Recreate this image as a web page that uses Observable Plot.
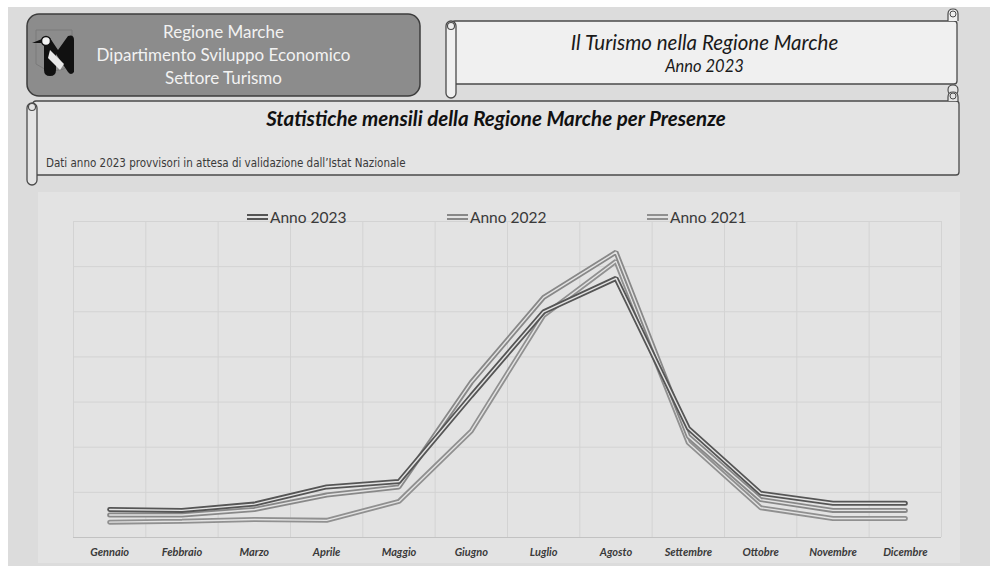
<!DOCTYPE html>
<html>
<head>
<meta charset="utf-8">
<script src="https://cdn.jsdelivr.net/npm/d3@7"></script>
<script src="https://cdn.jsdelivr.net/npm/@observablehq/plot@0.6"></script>
<style>
  html, body { margin: 0; padding: 0; background: #ffffff; }
  body { width: 1000px; height: 570px; position: relative; overflow: hidden; font-family: Lato, "Open Sans", sans-serif; }
  #panel { position: absolute; left: 8px; top: 7px; width: 982px; height: 559px; background: #dcdcdc; }
  #chartbg { position: absolute; left: 38px; top: 192px; width: 922px; height: 371px; background: #e3e3e3; }
  #deco { position: absolute; left: 0; top: 0; }
  .t { position: absolute; white-space: nowrap; }
  #chart { position: absolute; left: 38px; top: 192px; }
  #legend { position: absolute; top: 208px; left: 0; width: 1000px; height: 20px; }
  .li { position: absolute; display: flex; align-items: center; font-size: 15.5px; color: #3a3a3a; font-family: Lato, sans-serif; }
  .li svg { margin-right: 2px; }
</style>
</head>
<body>
<div id="panel"></div>
<div id="chartbg"></div>
<svg id="deco" width="1000" height="200">
  <!-- left box -->
  <rect x="27" y="14" width="393" height="82" rx="12" fill="#8c8c8c" stroke="#3c3c3c" stroke-width="1.5"/>
  <!-- logo -->
  <path d="M36 30 h36 v34 q-18 14 -36 0 z" fill="none" stroke="#7a7a7a" stroke-width="1"/>
  <path d="M44 40 v30 q0 6 6 6 q6 0 6 -6 v-16 l12 18 q3 4 6 0 v-32 q0 -6 -6 -4 l-10 14 l-8 -12 z" fill="#111"/>
  <path d="M50 50 l14 14 l-4 6 l-12 -12 z" fill="#e8e8e8"/>
  <circle cx="46" cy="41" r="4.5" fill="#f2f2f2" stroke="#111" stroke-width="1.5"/>
  <path d="M32 43 l10 -4 l0 4 z" fill="#111"/>
  <!-- top right scroll -->
  <rect x="452" y="21" width="505" height="63" rx="3" fill="#f0f0f0" stroke="#4a4a4a" stroke-width="1.3"/>
  <rect x="446" y="21" width="10" height="77" rx="5" fill="#f0f0f0" stroke="#4a4a4a" stroke-width="1.3"/>
  <circle cx="451" cy="26" r="3.5" fill="#f0f0f0" stroke="#4a4a4a" stroke-width="1.1"/>
  <path d="M948 21 v-7 q0 -5 5 -5 q5 0 5 5 v7" fill="#f0f0f0" stroke="#4a4a4a" stroke-width="1.2"/>
  <circle cx="953" cy="14" r="3" fill="none" stroke="#4a4a4a" stroke-width="1"/>
  <path d="M948 90 q0 -5 5 -5 q5 0 5 5 q0 5 -5 5 q-5 0 -5 -5 z" fill="#e6e6e6" stroke="#4a4a4a" stroke-width="1.1"/>
  <!-- second scroll -->
  <rect x="33" y="101" width="926" height="74" rx="3" fill="#e4e4e4" stroke="#4a4a4a" stroke-width="1.3"/>
  <rect x="27" y="103" width="10" height="82" rx="5" fill="#e4e4e4" stroke="#4a4a4a" stroke-width="1.3"/>
  <circle cx="32" cy="107" r="3.5" fill="#e4e4e4" stroke="#4a4a4a" stroke-width="1.1"/>
  <path d="M948 101 v-4 q0 -5 5 -5 q5 0 5 5 v4" fill="#e4e4e4" stroke="#4a4a4a" stroke-width="1.2"/>
  <circle cx="953" cy="96" r="3" fill="none" stroke="#4a4a4a" stroke-width="1"/>
</svg>
<div class="t" style="left:27px;width:393px;top:20px;text-align:center;color:#f2f2f2;font-size:17px;line-height:23px;">Regione Marche<br>Dipartimento Sviluppo Economico<br>Settore Turismo</div>
<div class="t" style="left:452px;width:505px;top:30px;text-align:center;color:#1a1a1a;font-size:20.5px;font-style:italic;">Il Turismo nella Regione Marche</div>
<div class="t" style="left:452px;width:505px;top:56px;text-align:center;color:#1a1a1a;font-size:16.5px;font-style:italic;">Anno 2023</div>
<div class="t" style="left:33px;width:926px;top:106px;text-align:center;color:#111;font-size:20.5px;font-style:italic;font-weight:bold;">Statistiche mensili della Regione Marche per Presenze</div>
<div class="t" style="left:46px;top:156px;color:#3a3a3a;font-size:11.5px;font-family:'Liberation Sans Narrow','DejaVu Sans Condensed',Lato,sans-serif;">Dati anno 2023 provvisori in attesa di validazione dall’Istat Nazionale</div>
<div id="chart"></div>
<div id="legend"></div>
<script>
// ---- data (presenze, milioni) ----
const months = ["Gennaio","Febbraio","Marzo","Aprile","Maggio","Giugno","Luglio","Agosto","Settembre","Ottobre","Novembre","Dicembre"];
const seriesNames = ["Anno 2023","Anno 2022","Anno 2021"];
const anno2023 = [0.31, 0.30, 0.37, 0.56, 0.62, 1.57, 2.50, 2.87, 1.21, 0.49, 0.38, 0.38];
const anno2022 = [0.25, 0.25, 0.31, 0.47, 0.56, 1.72, 2.66, 3.16, 1.12, 0.42, 0.30, 0.30];
const anno2021 = [0.17, 0.18, 0.20, 0.19, 0.40, 1.18, 2.46, 3.06, 1.05, 0.33, 0.21, 0.21];
const yTicks = [0, 0.5, 1, 1.5, 2, 2.5, 3, 3.5];

const colors = {"Anno 2023": "#555555", "Anno 2022": "#888888", "Anno 2021": "#909090"};
const valuesBy = {"Anno 2023": anno2023, "Anno 2022": anno2022, "Anno 2021": anno2021};
const rows = seriesNames.flatMap(name => valuesBy[name].map((v, i) => ({anno: name, i, mese: months[i], v})));
const gridX = months.map((m, i) => i - 0.5).concat([months.length - 0.5]);
const bg = "#e3e3e3";

const lineMarks = [];
for (const name of ["Anno 2021", "Anno 2022", "Anno 2023"]) {
  const data = rows.filter(r => r.anno === name);
  lineMarks.push(Plot.line(data, {x: "i", y: "v", stroke: colors[name], strokeWidth: 5, strokeLinejoin: "miter"}));
  lineMarks.push(Plot.line(data, {x: "i", y: "v", stroke: bg, strokeWidth: 1.4, strokeLinejoin: "miter"}));
}

const chart = Plot.plot({
  width: 922, height: 371,
  marginLeft: 35, marginRight: 19, marginTop: 29, marginBottom: 26,
  x: {domain: [-0.5, months.length - 0.5], axis: null},
  y: {domain: [0, 3.5], axis: null},
  style: {background: "transparent", overflow: "visible"},
  marks: [
    Plot.ruleX(gridX, {x: d => d, y1: 0, y2: 3.5, stroke: "#d3d3d3", strokeWidth: 1}),
    Plot.ruleY(yTicks.slice(1), {y: d => d, x1: -0.5, x2: months.length - 0.5, stroke: "#d3d3d3", strokeWidth: 1}),
    Plot.ruleY([0], {y: d => d, x1: -0.5, x2: months.length - 0.5, stroke: "#c2c2c2", strokeWidth: 1.2}),
    ...lineMarks,
    Plot.text(months, {x: (d, i) => i, y: () => 0, dy: 15, text: d => d, fill: "#3a3a3a", fontSize: 11, fontStyle: "italic", fontWeight: "bold", fontFamily: "Lato, sans-serif", letterSpacing: "-0.3px"})
  ]
});
document.getElementById("chart").appendChild(chart);

// legend
const legendX = {"Anno 2023": 247, "Anno 2022": 447, "Anno 2021": 647};
const legend = document.getElementById("legend");
for (const name of seriesNames) {
  const d = document.createElement("div");
  d.className = "li";
  d.style.left = legendX[name] + "px";
  d.innerHTML = `<svg width="21" height="8"><line x1="0" x2="21" y1="2" y2="2" stroke="${colors[name]}" stroke-width="2"/><line x1="0" x2="21" y1="6" y2="6" stroke="${colors[name]}" stroke-width="2"/></svg>${name}`;
  legend.appendChild(d);
}
</script>
</body>
</html>
